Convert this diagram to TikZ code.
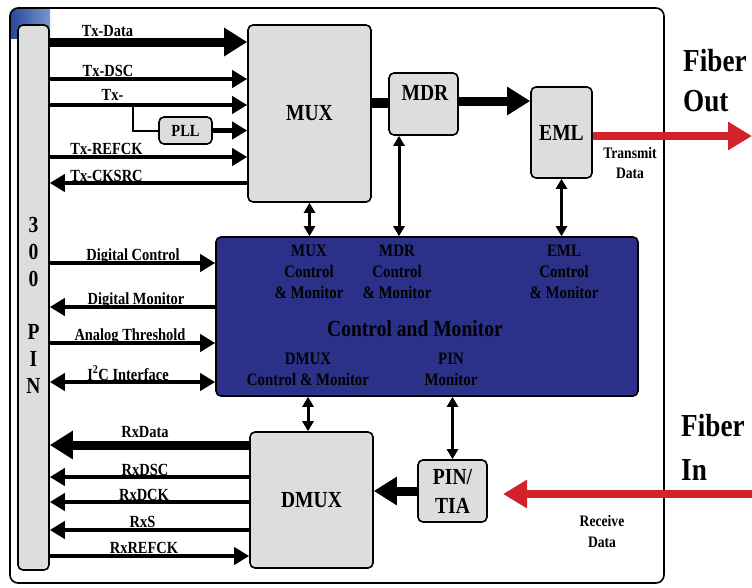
\documentclass[tikz,border=0pt]{standalone}
\usepackage{fontspec}
\setmainfont{Liberation Serif}[FakeStretch=0.85]
\usetikzlibrary{arrows.meta}
\definecolor{boxgray}{RGB}{221,221,221}
\definecolor{ctlblue}{RGB}{43,49,136}
\definecolor{fibred}{RGB}{210,35,42}
\definecolor{cornerdark}{RGB}{40,70,155}
\definecolor{cornerlight}{RGB}{120,150,205}

\begin{document}
\begin{tikzpicture}[x=1pt,y=-1pt,
  blk/.style={draw, line width=1.6pt, rounded corners=5pt, fill=boxgray, inner sep=0pt, align=center, font=\fontsize{23}{29}\selectfont\bfseries},
  lbl/.style={inner sep=0pt, anchor=base, font=\fontsize{17}{20}\selectfont\bfseries},
  sml/.style={inner sep=0pt, align=center, anchor=north, font=\fontsize{17.5}{21}\selectfont\bfseries},
  sig/.style={line width=4.5pt, >={Triangle[length=15pt,width=17pt]}},
  bus/.style={line width=9pt, >={Triangle[length=23pt,width=27pt]}},
  ctlarr/.style={line width=3pt, >={Triangle[length=10pt,width=11pt]}},
  fiber/.style={line width=8pt, color=fibred, >={Triangle[length=24pt,width=27pt]}}]
\useasboundingbox (0,0) rectangle (752,587);
% card outline with the shaded corner
\begin{scope}
\clip[rounded corners=8pt] (10,8) rectangle (664,583);
\shade[left color=cornerdark, right color=cornerlight] (10,8) rectangle (50,38);
\end{scope}
\node[draw, line width=1.6pt, rounded corners=8pt, minimum width=654pt, minimum height=575pt, inner sep=0pt](frame) at (337,295.5){};

% blocks
\node[blk, minimum width=31pt, minimum height=545pt](pinbar) at (33.5,297.5){};
\node[inner sep=0pt, anchor=north, align=center, font=\fontsize{23}{26.8}\selectfont\bfseries](pintxt) at (33.5,217){3\\0\\0\\[26.8pt]P\\I\\N};
\node[blk, minimum width=123pt, minimum height=177pt](mux) at (309.5,113.5){MUX};
\node[blk, minimum width=69pt, minimum height=62pt](mdr) at (423.5,104){};
\node[inner sep=0pt, anchor=base, font=\fontsize{23}{29}\selectfont\bfseries](mdrtxt) at (425,100){MDR};
\node[blk, minimum width=61pt, minimum height=91pt](eml) at (561.5,132.5){EML};
\node[blk, minimum width=53pt, minimum height=27pt, font=\fontsize{17}{20}\selectfont\bfseries](pll) at (185.5,130.5){PLL};
\node[blk, minimum width=123pt, minimum height=136pt](dmux) at (311.5,500){DMUX};
\node[blk, minimum width=69pt, minimum height=62pt](pin) at (452.5,491){PIN/\\TIA};
\node[draw, line width=1.6pt, rounded corners=5pt, fill=ctlblue, minimum width=422pt, minimum height=159pt](ctl) at (427,316.5){};

% texts inside the control block
\node[sml](muxcm) at (309,245){MUX\\Control\\\& Monitor};
\node[sml](mdrcm) at (397,245){MDR\\Control\\\& Monitor};
\node[sml](emlcm) at (564,245){EML\\Control\\\& Monitor};
\node[inner sep=0pt, anchor=base, font=\fontsize{23}{28}\selectfont\bfseries](ctltxt) at (415,336){Control and Monitor};
\node[sml](dmuxcm) at (308,353){DMUX\\Control \& Monitor};
\node[sml](pincm) at (451,353){PIN\\Monitor};

% transmit side
\draw[bus,->] (pinbar.east |- 0,42) -- (mux.west |- 0,42);
\draw[sig,->] (pinbar.east |- 0,79) -- (mux.west |- 0,79);
\draw[sig,->] (pinbar.east |- 0,105) -- (mux.west |- 0,105);
\coordinate (tap) at (133,105);
\draw[line width=2pt] (tap) |- (pll.west);
\draw[sig,->] (pll.east) -- (mux.west |- pll.east);
\draw[sig,->] (pinbar.east |- 0,157) -- (mux.west |- 0,157);
\draw[sig,<-] (pinbar.east |- 0,183) -- (mux.west |- 0,183);
\node[lbl](ltxdata) at (107.5,36){Tx-Data};
\node[lbl](ltxdsc) at (108,76){Tx-DSC};
\node[lbl](ltx) at (112.5,100){Tx-};
\node[lbl](ltxrefck) at (106.5,154){Tx-REFCK};
\node[lbl](ltxcksrc) at (106.5,181){Tx-CKSRC};

% control lines
\draw[sig,->] (pinbar.east |- 0,263) -- (ctl.west |- 0,263);
\draw[sig,<-] (pinbar.east |- 0,307) -- (ctl.west |- 0,307);
\draw[sig,->] (pinbar.east |- 0,343) -- (ctl.west |- 0,343);
\draw[sig,<->] (pinbar.east |- 0,382) -- (ctl.west |- 0,382);
\node[lbl](ldctl) at (133,260){Digital Control};
\node[lbl](ldmon) at (136,304){Digital Monitor};
\node[lbl](lanalog) at (130,340){Analog Threshold};
\node[lbl](li2c) at (128,380){I\textsuperscript{2}C Interface};

% receive side
\draw[bus,<-] (pinbar.east |- 0,445) -- (dmux.west |- 0,445);
\draw[sig,<-] (pinbar.east |- 0,477) -- (dmux.west |- 0,477);
\draw[sig,<-] (pinbar.east |- 0,502) -- (dmux.west |- 0,502);
\draw[sig,<-] (pinbar.east |- 0,530) -- (dmux.west |- 0,530);
\draw[sig,->] (pinbar.east |- 0,556) -- (dmux.west |- 0,556);
\node[lbl](lrxdata) at (145,437){RxData};
\node[lbl](lrxdsc) at (145,475){RxDSC};
\node[lbl](lrxdck) at (144,500){RxDCK};
\node[lbl](lrxs) at (142.5,527){RxS};
\node[lbl](lrxrefck) at (144,553){RxREFCK};

% data path
\draw[line width=10pt] (mux.east |- 0,103) -- (mdr.west |- 0,103);
\draw[bus,->] (mdr.east |- 0,101) -- (eml.west |- 0,101);
\draw[bus,->] (pin.west) -- (dmux.east |- pin.west);

% block to control links
\draw[ctlarr,<->] (mux.south) -- (mux.south |- ctl.north);
\draw[ctlarr,<->] (mdr.south -| 399,0) -- (ctl.north -| 399,0);
\draw[ctlarr,<->] (eml.south) -- (eml.south |- ctl.north);
\draw[ctlarr,<->] (ctl.south -| 308,0) -- (dmux.north -| 308,0);
\draw[ctlarr,<->] (ctl.south -| pin.north) -- (pin.north);

% fibers
\coordinate (outtip) at (752,136);
\coordinate (intail) at (752,494);
\coordinate (intip) at (503,494);
\draw[fiber,->] (eml.east |- outtip) -- (outtip);
\draw[fiber,->] (intail) -- (intip);
\node[inner sep=0pt, anchor=north west, align=left, font=\fontsize{32}{40}\selectfont\bfseries](fibout) at (683,49){Fiber\\Out};
\node[inner sep=0pt, anchor=north west, align=left, font=\fontsize{32}{44}\selectfont\bfseries](fibin) at (681,414){Fiber\\In};
\node[sml, font=\fontsize{16}{20}\selectfont\bfseries](txd) at (630,147){Transmit\\Data};
\node[sml, font=\fontsize{16}{21}\selectfont\bfseries](rxd) at (602,515){Receive\\Data};
\end{tikzpicture}
\end{document}
